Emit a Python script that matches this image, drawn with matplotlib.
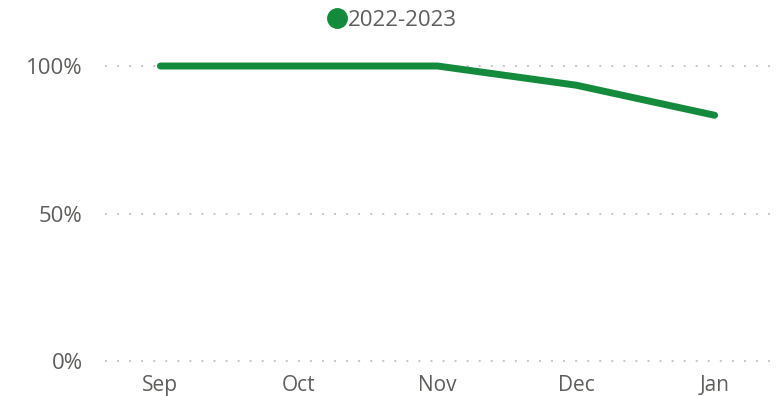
import matplotlib
matplotlib.use('Agg')
import matplotlib.pyplot as plt
from matplotlib.lines import Line2D

# Monthly share for the 2022-2023 season
months = ['Sep', 'Oct', 'Nov', 'Dec', 'Jan']
share_2022_2023 = [100, 100, 100, 93.5, 83.3]
y_ticks = [0, 50, 100]
y_tick_labels = ['0%', '50%', '100%']

green = '#148A3C'
text_gray = '#605E5C'
grid_gray = '#C8C6C4'

plt.rcParams['font.family'] = ['Open Sans', 'DejaVu Sans']

fig = plt.figure(figsize=(7.79, 3.96), dpi=100)
ax = fig.add_axes([105 / 779, 35 / 396, 665 / 779, 295 / 396])

x = list(range(len(months)))
ax.plot(x, share_2022_2023, color=green, linewidth=5, solid_capstyle='round',
        solid_joinstyle='round', clip_on=False, zorder=3)

ax.set_xlim(-0.4, len(months) - 1 + 0.4)
ax.set_ylim(0, 100)
ax.set_xticks(x)
ax.set_xticklabels(months)
ax.set_yticks(y_ticks)
ax.set_yticklabels(y_tick_labels)

for y in y_ticks:
    ax.axhline(y, color=grid_gray, linewidth=1.4, linestyle=(0, (1, 5.2)),
               zorder=1, clip_on=False)

for side in ['top', 'right', 'left', 'bottom']:
    ax.spines[side].set_visible(False)
ax.tick_params(axis='both', length=0, colors=text_gray)
ax.tick_params(axis='y', labelsize=16, pad=16)
ax.tick_params(axis='x', labelsize=15, pad=10)

handle = Line2D([], [], marker='o', linestyle='', color=green, markersize=14)
fig.legend([handle], ['2022-2023'], loc='center', bbox_to_anchor=(0.502, 0.949),
           frameon=False, fontsize=16, labelcolor=text_gray,
           handletextpad=0.0, handlelength=1.0, borderpad=0)

fig.savefig('out.png', dpi=100)
